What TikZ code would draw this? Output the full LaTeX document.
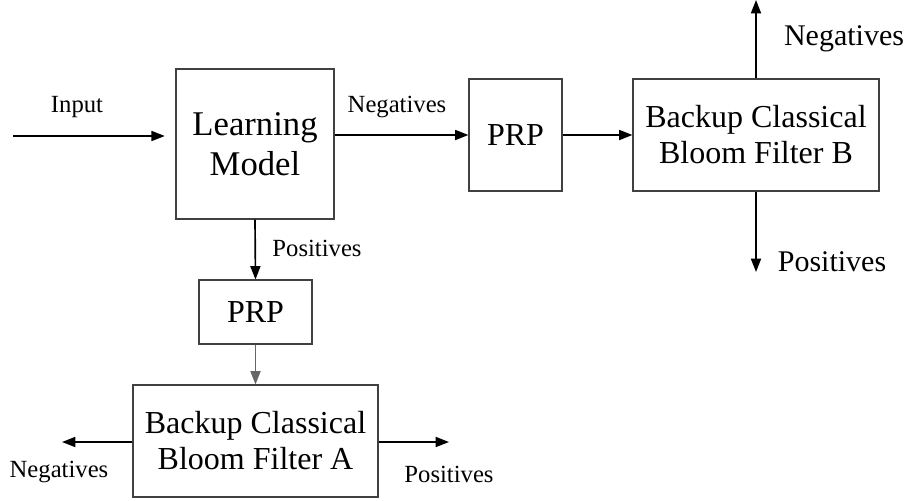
\documentclass[tikz,border=0pt]{standalone}
\usepackage{fontspec}
\setmainfont{Liberation Serif}
\usetikzlibrary{arrows.meta, positioning}
\tikzset{
  basebox/.style={
    draw=black!75,
    line width=0.8pt,
    align=center,
    inner sep=0pt,
    font=\fontsize{24}{27}\selectfont,
  },
  arr/.style={-{Triangle[length=10pt, width=7.5pt]}, line width=1.25pt, draw=black},
  garr/.style={-{Triangle[length=10pt, width=7.5pt]}, line width=1.25pt, draw=black!60, fill=black!60},
  nlabel/.style={font=\fontsize{18.5}{21}\selectfont, inner sep=0pt},
  blabel/.style={font=\fontsize{22.5}{25}\selectfont, inner sep=0pt},
}
\begin{document}
\begin{tikzpicture}[x=0.75pt, y=-0.75pt]
\useasboundingbox (0,0) rectangle (909,500);

% --- Boxes ---
\node[basebox, minimum width=158*0.75pt, minimum height=150*0.75pt, font=\fontsize{26}{30}\selectfont] (lm) at (255, 144) {Learning\\Model};
\node[basebox, minimum width=93*0.75pt, minimum height=112*0.75pt] (prpneg) at (515.5, 135) {PRP};
\node[basebox, minimum width=246*0.75pt, minimum height=112*0.75pt] (bfb) at (756, 135) {Backup Classical\\Bloom Filter B};
\node[basebox, minimum width=113*0.75pt, minimum height=64*0.75pt] (prppos) at (255.5, 312) {PRP};
\node[basebox, minimum width=245*0.75pt, minimum height=112*0.75pt] (bfa) at (255.5, 441) {Backup Classical\\Bloom Filter A};

% --- Free ends ---
\coordinate (in) at (13, 136);
\coordinate (bfbup) at (756, 0);
\coordinate (bfbdown) at (756, 272);
\coordinate (bfaleft) at (62, 442);
\coordinate (bfaright) at (449, 442);

% --- Labels ---
\node[nlabel] (lblin) at (77, 107) {Input};
\node[nlabel] (lblneg) at (397, 107) {Negatives};
\node[nlabel] (lblpos) at (317, 248) {Positives};
\node[blabel] (lblbneg) at (844, 39) {Negatives};
\node[blabel] (lblbpos) at (832, 262) {Positives};
\node[nlabel] (lblaneg) at (59, 472) {Negatives};
\node[nlabel] (lblapos) at (449, 474) {Positives};

% --- Arrows ---
\draw[arr, shorten >=8pt] (in) -- (lm.west |- in);
\draw[arr] (lm.east |- prpneg) -- (prpneg.west);
\draw[arr] (prpneg.east) -- (bfb.west);
\draw[arr] (bfb.north) -- (bfbup);
\draw[arr] (bfb.south) -- (bfbdown);
\draw[arr] (lm.south) -- (prppos.north);
\draw[garr] (prppos.south) -- (bfa.north);
\draw[arr] (bfa.west |- bfaleft) -- (bfaleft);
\draw[arr] (bfa.east |- bfaright) -- (bfaright);

\end{tikzpicture}
\end{document}
